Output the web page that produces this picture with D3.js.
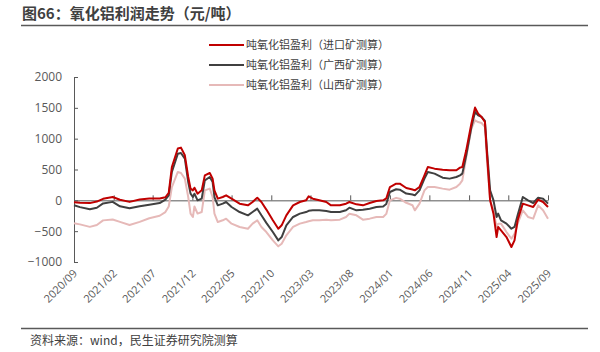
<!DOCTYPE html>
<html>
<head>
<meta charset="utf-8">
<script src="https://cdn.jsdelivr.net/npm/d3@7/dist/d3.min.js"></script>
<style>
  body { margin: 0; background: #fff; }
  svg { display: block; font-family: "Noto Sans CJK SC", "Noto Sans", sans-serif; }
</style>
</head>
<body>
<svg id="chart" width="600" height="352"></svg>
<script>
const dates = [
  "2020-09-01","2020-09-24","2020-11-01","2020-11-28","2020-12-22","2021-01-28","2021-02-25","2021-04-03",
  "2021-05-12","2021-06-18","2021-07-28","2021-08-19","2021-09-01","2021-09-13","2021-10-06","2021-10-18",
  "2021-11-02","2021-11-15","2021-11-24","2021-12-03","2021-12-09","2021-12-21","2022-01-06","2022-01-18",
  "2022-02-06","2022-02-17","2022-02-24","2022-03-09","2022-03-28","2022-04-10","2022-05-01","2022-06-01",
  "2022-07-03","2022-07-21","2022-08-08","2022-08-24","2022-09-12","2022-10-07","2022-10-28","2022-11-10",
  "2022-11-28","2022-12-24","2023-01-19","2023-02-12","2023-02-22","2023-03-10","2023-04-04","2023-05-01",
  "2023-05-19","2023-06-22","2023-07-16","2023-07-29","2023-08-25","2023-09-19","2023-10-15","2023-11-10",
  "2023-12-06","2023-12-18","2024-01-01","2024-01-25","2024-02-08","2024-03-04","2024-03-28","2024-04-06",
  "2024-04-24","2024-05-13","2024-05-26","2024-06-21","2024-07-22","2024-08-18","2024-09-13","2024-09-27",
  "2024-10-06","2024-10-21","2024-11-10","2024-11-24","2024-12-06","2024-12-19","2025-01-01","2025-01-08",
  "2025-01-21","2025-02-03","2025-02-15","2025-02-21","2025-03-04","2025-03-25","2025-04-13","2025-04-25",
  "2025-05-07","2025-05-27","2025-06-16","2025-07-06","2025-07-25","2025-08-13","2025-09-01"
];

// 进口矿测算
const importOre = [
  -30, -40, -45, -20, 25, 55, 10, -25,
  15, 30, 30, 50, 120, 540, 840, 855,
  730, 378, 190, 162, 205, 108, 162, 405,
  443, 352, 162, 27, 54, 81, 27, -54,
  -81, -27, 43, -27, -150, -324, -460, -405,
  -243, -81, -27, 0, 65, 27, 0, -27,
  -81, -81, -54, -27, -65, -81, -43, -11,
  0, 30, 216, 270, 270, 200, 175, 162,
  216, 405, 540, 514, 497, 487, 487, 530,
  540, 811, 1245, 1504, 1406, 1352, 1270, 811,
  0, -216, -595, -432, -486, -595, -757, -649,
  -324, -54, -81, -108, 11, -27, -108
];

// 广西矿测算
const guangxiOre = [
  -80, -110, -146, -120, -50, -25, -97, -130,
  -95, -70, -45, 10, 80, 460, 757, 768,
  676, 297, 108, 54, 108, 0, 27, 324,
  378, 297, 54, -81, -54, -27, -108, -190,
  -243, -190, -135, -243, -365, -514, -650, -595,
  -405, -270, -216, -190, -170, -162, -162, -173,
  -190, -190, -162, -119, -162, -151, -135, -108,
  -100, -60, 135, 180, 173, 110, 95, 81,
  162, 352, 460, 433, 368, 352, 378, 405,
  433, 730, 1190, 1433, 1379, 1352, 1287, 865,
  162, 0, -270, -216, -324, -378, -460, -432,
  -243, 54, 0, -43, 43, 27, -54
];

// 山西矿测算
const shanxiOre = [
  -370, -390, -430, -400, -325, -310, -350, -400,
  -350, -290, -250, -190, -100, 215, 460, 443,
  352, 54, -215, -270, -100, -215, -190, 162,
  190, 54, -215, -352, -324, -297, -378, -432,
  -460, -378, -324, -432, -514, -650, -746, -703,
  -568, -432, -378, -352, -340, -324, -324, -314,
  -324, -314, -270, -216, -243, -314, -297, -270,
  -270, -220, 0, 40, 27, -40, -80, -162,
  -54, 162, 216, 216, 190, 173, 216, 270,
  324, 703, 1163, 1298, 1270, 1254, 1190, 703,
  0, -162, -432, -380, -378, -514, -622, -541,
  -378, -162, -270, -297, -81, -162, -297
];

const seriesNames = ["吨氧化铝盈利（进口矿测算）", "吨氧化铝盈利（广西矿测算）", "吨氧化铝盈利（山西矿测算）"];
const seriesColors = ["#C00000", "#404040", "#E6B9B8"];
const yTicks = [-1000, -500, 0, 500, 1000, 1500, 2000];

const svg = d3.select("#chart");
const parse = d3.timeParse("%Y-%m-%d");
const start = parse("2020-09-01");
const end = parse("2025-09-01");

const x = d3.scaleTime().domain([start, end]).range([74, 548]);
const y = d3.scaleLinear().domain([-1000, 2000]).range([262, 77]);

// title
svg.append("text")
  .attr("x", 22).attr("y", 19)
  .attr("font-size", 15).attr("font-weight", "bold").attr("fill", "#404040")
  .text("图66：氧化铝利润走势（元/吨）");
svg.append("line")
  .attr("x1", 21).attr("x2", 588).attr("y1", 25.5).attr("y2", 25.5)
  .attr("stroke", "#595959").attr("stroke-width", 1.5);

// footer
svg.append("line")
  .attr("x1", 21).attr("x2", 588).attr("y1", 328.5).attr("y2", 328.5)
  .attr("stroke", "#595959").attr("stroke-width", 1.5);
svg.append("text")
  .attr("x", 30).attr("y", 345)
  .attr("font-size", 12).attr("fill", "#404040")
  .text("资料来源：wind，民生证券研究院测算");

// y axis, ticks pointing inward
const yAxis = svg.append("g")
  .attr("transform", "translate(74,0)")
  .call(d3.axisRight(y).tickValues(yTicks).tickSize(4).tickFormat(d3.format("d")));
yAxis.select(".domain").attr("stroke", "#595959");
yAxis.selectAll(".tick line").attr("stroke", "#595959");
yAxis.selectAll(".tick text")
  .attr("x", -12).attr("text-anchor", "end")
  .attr("font-size", 12).attr("fill", "#595959")
  .attr("font-family", "'Open Sans', 'Noto Sans', sans-serif");

// x axis on the zero line, ticks upward
const xTicks = d3.range(13).map(i => d3.timeMonth.offset(start, i * 5));
const xAxis = svg.append("g")
  .attr("transform", `translate(0,${y(0)})`)
  .call(d3.axisTop(x).tickValues(xTicks).tickSize(5).tickSizeOuter(0).tickFormat(""));
xAxis.select(".domain").attr("stroke", "#595959");
xAxis.selectAll(".tick line").attr("stroke", "#595959");

svg.append("g").selectAll("text")
  .data(xTicks)
  .join("text")
  .attr("transform", d => `translate(${x(d) + 4},274) rotate(-45)`)
  .attr("text-anchor", "end")
  .attr("font-size", 11).attr("fill", "#595959")
  .attr("font-family", "'Open Sans', 'Noto Sans', sans-serif")
  .text(d3.timeFormat("%Y/%m"));

// lines
const allSeries = [importOre, guangxiOre, shanxiOre];
const line = d3.line()
  .x((d, i) => x(parse(dates[i])))
  .y(d => y(d));

[2, 1, 0].forEach(k => {
  svg.append("path")
    .datum(allSeries[k])
    .attr("fill", "none")
    .attr("stroke", seriesColors[k])
    .attr("stroke-width", 2)
    .attr("stroke-linejoin", "round")
    .attr("d", line);
});

// legend
const legend = svg.append("g").selectAll("g")
  .data(seriesNames)
  .join("g")
  .attr("transform", (d, i) => `translate(209,${45 + i * 20})`);
legend.append("line")
  .attr("x1", 0).attr("x2", 35)
  .attr("stroke", (d, i) => seriesColors[i]).attr("stroke-width", 2);
legend.append("text")
  .attr("x", 37).attr("y", 4)
  .attr("font-size", 11).attr("fill", "#404040")
  .text(d => d);
</script>
</body>
</html>
